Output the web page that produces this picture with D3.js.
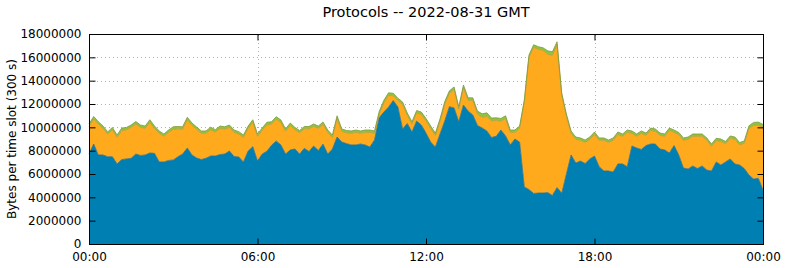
<!DOCTYPE html>
<html>
<head>
<meta charset="utf-8">
<script src="https://cdn.jsdelivr.net/npm/d3@7"></script>
<style>
  html, body { margin: 0; padding: 0; background: #fff; }
  svg { display: block; }
  text { font-family: "DejaVu Sans", sans-serif; fill: #000; }
</style>
</head>
<body>
<svg id="chart" width="785" height="268"></svg>
<script>
// ---- data (values in millions of bytes per 300 s slot, sampled every 10 min) ----
const title = "Protocols -- 2022-08-31 GMT";
const yLabel = "Bytes per time slot (300 s)";
const xTickMinutes = [0, 360, 720, 1080, 1440];
const xTickLabels = ["00:00", "06:00", "12:00", "18:00", "00:00"];
const yTickValues = [0, 2000000, 4000000, 6000000, 8000000, 10000000, 12000000, 14000000, 16000000, 18000000];
const seriesNames = ["blue", "orange", "green"];
const slotMinutes = d3.range(0, 1441, 10);

const blue = [
 7.71,8.57,7.63,7.63,7.48,7.48,6.86,7.24,7.29,7.35,7.71,7.59,7.63,7.80,7.77,7.03,7.03,7.16,7.20,7.48,
 7.71,8.23,7.63,7.37,7.24,7.35,7.54,7.54,7.67,7.71,7.97,7.50,7.46,7.03,7.97,8.34,7.11,7.71,7.95,8.46,
 8.83,8.49,7.71,8.06,8.14,7.71,8.20,7.93,8.40,8.01,8.57,7.71,8.14,9.17,8.74,8.61,8.49,8.49,8.57,8.49,
 8.31,8.91,10.84,11.31,11.74,12.30,11.74,9.86,10.33,9.60,10.54,10.20,9.51,8.74,8.31,9.43,10.54,11.77,11.66,10.48,
 11.91,11.40,11.06,10.16,9.94,9.69,9.13,9.23,9.77,9.26,8.49,9.00,8.74,4.89,4.67,4.33,4.37,4.37,4.41,4.16,
 4.84,4.35,6.00,7.63,6.94,7.11,6.90,7.29,7.54,6.63,6.26,6.26,6.17,6.86,6.86,6.63,8.40,8.23,8.10,8.44,
 8.57,8.57,8.14,8.06,7.80,8.44,7.63,6.51,6.43,6.69,6.47,6.69,6.34,6.26,7.03,6.77,7.03,7.29,6.86,6.77,
 6.47,5.91,5.57,5.63,4.63
];
const orange = [
 2.38,2.14,2.65,2.28,1.95,2.31,2.28,2.48,2.50,2.65,2.57,2.41,2.28,2.63,2.14,2.46,2.20,2.41,2.63,2.39,
 2.14,2.41,2.54,2.46,2.25,2.14,2.25,2.06,2.24,2.14,2.03,2.07,1.97,2.11,1.94,2.09,2.12,2.03,2.26,1.82,
 1.86,1.94,1.95,2.11,1.65,1.82,1.67,1.94,1.69,1.90,1.69,1.86,1.00,1.60,0.92,0.92,1.00,1.08,0.92,1.08,
 1.26,0.58,0.30,0.79,1.00,0.40,0.55,2.11,0.70,0.68,0.70,0.91,1.05,1.17,1.00,1.08,1.46,1.14,1.60,1.09,
 1.52,0.91,1.25,0.98,0.92,1.25,1.41,1.37,0.74,1.51,1.08,0.57,1.17,7.25,11.33,12.53,12.32,12.23,11.85,12.01,
 12.27,8.39,4.94,1.86,2.03,1.78,1.81,1.68,1.86,2.26,2.63,2.45,2.72,2.54,2.37,2.94,1.09,1.00,1.39,0.87,
 1.17,1.09,1.17,1.17,1.94,1.13,1.73,2.38,2.54,2.54,2.76,2.54,2.55,2.11,1.83,2.03,1.56,1.77,2.11,1.73,
 2.16,4.00,4.60,4.57,5.37
];
const green = [
 0.20,0.22,0.20,0.20,0.18,0.20,0.20,0.22,0.20,0.20,0.22,0.20,0.20,0.22,0.20,0.20,0.20,0.20,0.22,0.20,
 0.20,0.22,0.20,0.20,0.20,0.20,0.22,0.20,0.20,0.20,0.20,0.20,0.20,0.20,0.20,0.22,0.20,0.20,0.22,0.20,
 0.22,0.20,0.20,0.20,0.20,0.20,0.20,0.20,0.20,0.20,0.20,0.20,0.20,0.22,0.20,0.20,0.20,0.20,0.20,0.20,
 0.20,0.20,0.22,0.22,0.22,0.22,0.20,0.20,0.20,0.20,0.20,0.20,0.20,0.20,0.20,0.22,0.20,0.22,0.20,0.20,
 0.20,0.22,0.22,0.25,0.30,0.30,0.25,0.22,0.25,0.22,0.20,0.20,0.20,0.20,0.20,0.22,0.22,0.22,0.30,0.30,
 0.22,0.20,0.20,0.20,0.20,0.20,0.20,0.20,0.20,0.20,0.20,0.20,0.20,0.20,0.20,0.20,0.20,0.20,0.20,0.20,
 0.20,0.20,0.20,0.20,0.20,0.20,0.20,0.20,0.20,0.20,0.20,0.20,0.20,0.20,0.20,0.20,0.20,0.20,0.20,0.20,
 0.20,0.22,0.25,0.25,0.25
];

// ---- layout ----
const margin = { left: 89, right: 22, top: 34, bottom: 24 };
const W = 785, H = 268;
const svg = d3.select("#chart");
const x = d3.scaleLinear().domain([0, 1440]).range([margin.left, W - margin.right]);
const y = d3.scaleLinear().domain([0, 18000000]).range([H - margin.bottom, margin.top]);

const rows = slotMinutes.map((m, i) => ({ t: m, blue: blue[i] * 1e6, orange: orange[i] * 1e6, green: green[i] * 1e6 }));
const stacked = d3.stack().keys(seriesNames)(rows);

const fills = { blue: "#0080b2", orange: "#ffaa1d", green: "#8cc63e" };
const strokes = { blue: "#2a6f8f", orange: "#b89a3a", green: "#7f9a3a" };

// grid (behind data)
const grid = svg.append("g").attr("stroke", "#b0b0b0").attr("stroke-width", 1).attr("stroke-dasharray", "1,3");
yTickValues.slice(1, -1).forEach(v => {
  grid.append("line").attr("x1", x(0)).attr("x2", x(1440))
    .attr("y1", Math.round(y(v)) + 0.5).attr("y2", Math.round(y(v)) + 0.5);
});
xTickMinutes.slice(1, -1).forEach(m => {
  grid.append("line").attr("y1", y(0)).attr("y2", y(18000000))
    .attr("x1", Math.round(x(m)) + 0.5).attr("x2", Math.round(x(m)) + 0.5);
});

// areas
const area = d3.area().x(d => x(d.data.t)).y0(d => y(d[0])).y1(d => y(d[1]));
const topLine = d3.line().x(d => x(d.data.t)).y(d => y(d[1]));
stacked.forEach(s => {
  svg.append("path").datum(s).attr("d", area).attr("fill", fills[s.key]);
});
stacked.forEach(s => {
  svg.append("path").datum(s).attr("d", topLine).attr("fill", "none")
    .attr("stroke", strokes[s.key]).attr("stroke-width", 1).attr("stroke-opacity", 0.8);
});

// border box
svg.append("rect").attr("x", x(0) + 0.5).attr("y", y(18000000) + 0.5)
  .attr("width", x(1440) - x(0)).attr("height", y(0) - y(18000000))
  .attr("fill", "none").attr("stroke", "#000").attr("stroke-width", 1);

// axes (gnuplot-style inward ticks, mirrored)
const yAxisL = d3.axisLeft(y).tickValues(yTickValues).tickSize(-6).tickPadding(8).tickFormat(d3.format("d"));
const yAxisR = d3.axisRight(y).tickValues(yTickValues).tickSize(-6).tickFormat("");
const xAxisB = d3.axisBottom(x).tickValues(xTickMinutes).tickSize(-6).tickPadding(8).tickFormat((d, i) => xTickLabels[i]);
const xAxisT = d3.axisTop(x).tickValues(xTickMinutes).tickSize(-6).tickFormat("");

function style(g) {
  g.select(".domain").remove();
  g.selectAll("line").attr("stroke", "#000");
  g.selectAll("text").style("font-family", "DejaVu Sans, sans-serif").style("font-size", "12px").attr("fill", "#000");
}
svg.append("g").attr("transform", `translate(${x(0) + 0.5},0)`).call(yAxisL).call(style);
svg.append("g").attr("transform", `translate(${x(1440) + 0.5},0)`).call(yAxisR).call(style);
svg.append("g").attr("transform", `translate(0,${y(0) + 0.5})`).call(xAxisB).call(style);
svg.append("g").attr("transform", `translate(0,${y(18000000) + 0.5})`).call(xAxisT).call(style);

// title & y label
svg.append("text").attr("x", (x(0) + x(1440)) / 2).attr("y", 17).attr("text-anchor", "middle")
  .style("font-size", "14.5px").text(title);
svg.append("text").attr("transform", `translate(16,${(y(0) + y(18000000)) / 2}) rotate(-90)`)
  .attr("text-anchor", "middle").style("font-size", "12px").text(yLabel);
</script>
</body>
</html>
